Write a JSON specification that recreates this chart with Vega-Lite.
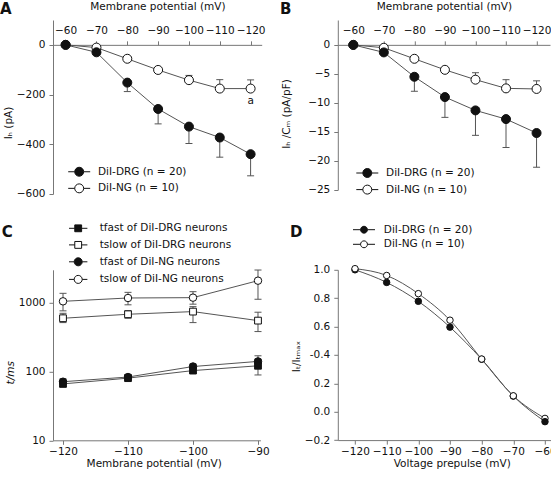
{
  "$schema": "https://vega.github.io/schema/vega-lite/v6.json",
  "padding": {"left": 0, "top": 1, "right": 0, "bottom": 0},
  "autosize": {"type": "pad"},
  "config": {
    "font": "DejaVu Sans",
    "view": {"stroke": null},
    "axis": {"domainColor": "#777", "tickColor": "#777", "labelColor": "#111", "titleColor": "#111", "labelFontSize": 10.5, "titleFontSize": 10.5, "titleFontWeight": "normal", "grid": false, "tickSize": 4, "labelFlush": false, "labelOverlap": false},
    "legend": {"labelFontSize": 10.5, "labelColor": "#111", "padding": 0, "symbolStrokeWidth": 1, "symbolOpacity": 1},
    "title": {"fontSize": 15, "fontWeight": "bold", "color": "#111", "anchor": "start", "frame": "group"}
  },
  "datasets": {
    "A": [
      {"x": -60, "y": 0, "series": "DiI-NG (n = 10)"},
      {"x": -70, "y": -11, "series": "DiI-NG (n = 10)"},
      {"x": -80, "y": -56, "series": "DiI-NG (n = 10)"},
      {"x": -90, "y": -101, "series": "DiI-NG (n = 10)"},
      {"x": -100, "y": -142, "lo": -123, "series": "DiI-NG (n = 10)"},
      {"x": -110, "y": -176, "lo": -140, "series": "DiI-NG (n = 10)"},
      {"x": -120, "y": -176, "lo": -141, "series": "DiI-NG (n = 10)"},
      {"x": -60, "y": 0, "series": "DiI-DRG (n = 20)"},
      {"x": -70, "y": -30, "series": "DiI-DRG (n = 20)"},
      {"x": -80, "y": -152, "lo": -188, "series": "DiI-DRG (n = 20)"},
      {"x": -90, "y": -258, "lo": -318, "series": "DiI-DRG (n = 20)"},
      {"x": -100, "y": -329, "lo": -397, "series": "DiI-DRG (n = 20)"},
      {"x": -110, "y": -373, "lo": -452, "series": "DiI-DRG (n = 20)"},
      {"x": -120, "y": -440, "lo": -527, "series": "DiI-DRG (n = 20)"}
    ],
    "Anote": [{"x": -120, "y": -227, "text": "a"}],
    "B": [
      {"x": -60, "y": 0, "series": "DiI-NG (n = 10)"},
      {"x": -70, "y": -0.5, "series": "DiI-NG (n = 10)"},
      {"x": -80, "y": -2.4, "series": "DiI-NG (n = 10)"},
      {"x": -90, "y": -4.3, "series": "DiI-NG (n = 10)"},
      {"x": -100, "y": -6.0, "lo": -4.8, "series": "DiI-NG (n = 10)"},
      {"x": -110, "y": -7.5, "lo": -6.0, "series": "DiI-NG (n = 10)"},
      {"x": -120, "y": -7.6, "lo": -6.2, "series": "DiI-NG (n = 10)"},
      {"x": -60, "y": 0, "series": "DiI-DRG (n = 20)"},
      {"x": -70, "y": -1.3, "series": "DiI-DRG (n = 20)"},
      {"x": -80, "y": -5.5, "lo": -8.0, "series": "DiI-DRG (n = 20)"},
      {"x": -90, "y": -9.0, "lo": -12.5, "series": "DiI-DRG (n = 20)"},
      {"x": -100, "y": -11.3, "lo": -15.6, "series": "DiI-DRG (n = 20)"},
      {"x": -110, "y": -12.8, "lo": -17.7, "series": "DiI-DRG (n = 20)"},
      {"x": -120, "y": -15.2, "lo": -21.1, "series": "DiI-DRG (n = 20)"}
    ],
    "C": [
      {"x": -120, "y": 71, "lo": 65, "hi": 78, "series": "tfast of DiI-NG neurons"},
      {"x": -110, "y": 83, "lo": 78, "hi": 89, "series": "tfast of DiI-NG neurons"},
      {"x": -100, "y": 118, "lo": 108, "hi": 128, "series": "tfast of DiI-NG neurons"},
      {"x": -90, "y": 140, "lo": 120, "hi": 169, "series": "tfast of DiI-NG neurons"},
      {"x": -120, "y": 66, "lo": 60, "hi": 72, "series": "tfast of DiI-DRG neurons"},
      {"x": -110, "y": 80, "lo": 75, "hi": 86, "series": "tfast of DiI-DRG neurons"},
      {"x": -100, "y": 103, "lo": 95, "hi": 112, "series": "tfast of DiI-DRG neurons"},
      {"x": -90, "y": 121, "lo": 89, "hi": 150, "series": "tfast of DiI-DRG neurons"},
      {"x": -120, "y": 593, "lo": 513, "hi": 700, "series": "tslow of DiI-DRG neurons"},
      {"x": -110, "y": 678, "lo": 593, "hi": 765, "series": "tslow of DiI-DRG neurons"},
      {"x": -100, "y": 741, "lo": 513, "hi": 875, "series": "tslow of DiI-DRG neurons"},
      {"x": -90, "y": 548, "lo": 380, "hi": 726, "series": "tslow of DiI-DRG neurons"},
      {"x": -120, "y": 1045, "lo": 760, "hi": 1366, "series": "tslow of DiI-NG neurons"},
      {"x": -110, "y": 1168, "lo": 930, "hi": 1411, "series": "tslow of DiI-NG neurons"},
      {"x": -100, "y": 1182, "lo": 950, "hi": 1443, "series": "tslow of DiI-NG neurons"},
      {"x": -90, "y": 2085, "lo": 1120, "hi": 2978, "series": "tslow of DiI-NG neurons"}
    ],
    "D": [
      {"x": -120, "y": 1.0, "series": "DiI-DRG (n = 20)"},
      {"x": -80, "y": 0.37, "series": "DiI-DRG (n = 20)"},
      {"x": -70, "y": 0.11, "series": "DiI-DRG (n = 20)"},
      {"x": -120, "y": 1.008, "series": "DiI-NG (n = 10)"},
      {"x": -110, "y": 0.96, "series": "DiI-NG (n = 10)"},
      {"x": -100, "y": 0.832, "series": "DiI-NG (n = 10)"},
      {"x": -90, "y": 0.645, "series": "DiI-NG (n = 10)"},
      {"x": -80, "y": 0.371, "series": "DiI-NG (n = 10)"},
      {"x": -70, "y": 0.112, "series": "DiI-NG (n = 10)"},
      {"x": -60, "y": -0.047, "series": "DiI-NG (n = 10)"},
      {"x": -110, "y": 0.911, "series": "DiI-DRG (n = 20)"},
      {"x": -100, "y": 0.778, "series": "DiI-DRG (n = 20)"},
      {"x": -90, "y": 0.596, "series": "DiI-DRG (n = 20)"},
      {"x": -60, "y": -0.07, "series": "DiI-DRG (n = 20)"}
    ]
  },
  "bounds": "flush",
  "columns": 2,
  "spacing": {"row": 75.8, "column": 75.8},
  "resolve": {"scale": {"fill": "independent", "shape": "independent"}, "legend": {"fill": "independent", "shape": "independent"}},
  "concat": [
    {
      "width": 208.7,
      "height": 173.95,
      "title": {"text": "A", "dx": -53, "dy": 19.5},
      "encoding": {
        "x": {"field": "x", "type": "quantitative", "scale": {"domain": [-123.6, -55.9], "reverse": true, "nice": false, "zero": false},
          "axis": {"orient": "top", "offset": -24.85, "values": [-60, -70, -80, -90, -100, -110, -120], "labelPadding": 5, "title": "Membrane potential (mV)", "titleY": -38.3, "titleBaseline": "middle"}},
        "y": {"field": "y", "type": "quantitative", "scale": {"domain": [-600, 100], "nice": false, "zero": false},
          "axis": {"values": [0, -200, -400, -600], "labelPadding": 4, "title": "Iₕ (pA)", "titleX": -44.8, "titleY": 102.5, "titleBaseline": "middle"}}
      },
      "layer": [
        {"data": {"name": "A"}, "mark": {"type": "line", "color": "#555", "strokeWidth": 1}, "encoding": {"detail": {"field": "series"}}},
        {"data": {"name": "A"}, "transform": [{"filter": "isValid(datum.lo)"}], "mark": {"type": "rule", "color": "#555", "strokeWidth": 1}, "encoding": {"y2": {"field": "lo"}}},
        {"data": {"name": "A"}, "transform": [{"filter": "isValid(datum.lo)"}], "mark": {"type": "tick", "orient": "horizontal", "size": 7, "thickness": 1, "color": "#555", "opacity": 1}, "encoding": {"y": {"field": "lo", "type": "quantitative"}}},
        {"data": {"name": "A"}, "mark": {"type": "point", "filled": true, "size": 81, "stroke": "#111", "strokeWidth": 1, "opacity": 1},
          "encoding": {"fill": {"field": "series", "type": "nominal", "scale": {"domain": ["DiI-DRG (n = 20)", "DiI-NG (n = 10)"], "range": ["#111", "white"]},
            "legend": {"title": null, "orient": "none", "legendX": 18.7, "legendY": 144.25, "symbolSize": 196, "labelOffset": 11.3, "rowPadding": 2.6,
              "symbolType": "M-1.57,0H-0.64M0.64,0H1.57M-0.64,0A0.64,0.64,0,1,1,0.64,0A0.64,0.64,0,1,1,-0.64,0Z",
              "encode": {"symbols": {"update": {"stroke": {"value": "#222"}, "strokeWidth": {"value": 1}, "opacity": {"value": 1}}}}}}}},
        {"data": {"name": "Anote"}, "mark": {"type": "text", "fontSize": 10.5, "color": "#111"}, "encoding": {"text": {"field": "text"}}}
      ]
    },
    {
      "width": 212.2,
      "height": 169.85,
      "title": {"text": "B", "dx": -57.8, "dy": 19.5},
      "data": {"name": "B"},
      "encoding": {
        "x": {"field": "x", "type": "quantitative", "scale": {"domain": [-124.4, -54.93], "reverse": true, "nice": false, "zero": false},
          "axis": {"orient": "top", "offset": -24.85, "values": [-60, -70, -80, -90, -100, -110, -120], "labelPadding": 5, "title": "Membrane potential (mV)", "titleY": -38.3, "titleBaseline": "middle"}},
        "y": {"field": "y", "type": "quantitative", "scale": {"domain": [-25, 4.29], "nice": false, "zero": false},
          "axis": {"values": [0, -5, -10, -15, -20, -25], "labelPadding": 4, "title": "Iₕ /Cₘ (pA/pF)", "titleX": -51.8, "titleY": 93.5, "titleBaseline": "middle"}}
      },
      "layer": [
        {"mark": {"type": "line", "color": "#555", "strokeWidth": 1}, "encoding": {"detail": {"field": "series"}}},
        {"transform": [{"filter": "isValid(datum.lo)"}], "mark": {"type": "rule", "color": "#555", "strokeWidth": 1}, "encoding": {"y2": {"field": "lo"}}},
        {"transform": [{"filter": "isValid(datum.lo)"}], "mark": {"type": "tick", "orient": "horizontal", "size": 7, "thickness": 1, "color": "#555", "opacity": 1}, "encoding": {"y": {"field": "lo", "type": "quantitative"}}},
        {"mark": {"type": "point", "filled": true, "size": 81, "stroke": "#111", "strokeWidth": 1, "opacity": 1},
          "encoding": {"fill": {"field": "series", "type": "nominal", "scale": {"domain": ["DiI-DRG (n = 20)", "DiI-NG (n = 10)"], "range": ["#111", "white"]},
            "legend": {"title": null, "orient": "none", "legendX": 22, "legendY": 145.5, "symbolSize": 196, "labelOffset": 11.3, "rowPadding": 2.6,
              "symbolType": "M-1.57,0H-0.64M0.64,0H1.57M-0.64,0A0.64,0.64,0,1,1,0.64,0A0.64,0.64,0,1,1,-0.64,0Z",
              "encode": {"symbols": {"update": {"stroke": {"value": "#222"}, "strokeWidth": {"value": 1}, "opacity": {"value": 1}}}}}}}}
      ]
    },
    {
      "width": 207.4,
      "height": 170.5,
      "title": {"text": "C", "dx": -51.3, "dy": 22},
      "data": {"name": "C"},
      "encoding": {
        "x": {"field": "x", "type": "quantitative", "scale": {"domain": [-121.54, -89.63], "nice": false, "zero": false},
          "axis": {"values": [-120, -110, -100, -90], "labelPadding": 2, "title": "Membrane potential (mV)", "titleX": 100.7, "titleY": 23.5, "titleBaseline": "middle"}},
        "y": {"field": "y", "type": "quantitative", "scale": {"type": "log", "domain": [10, 3000], "nice": false},
          "axis": {"values": [10, 100, 1000], "labelPadding": 4, "format": "d", "title": "t/ms", "titleX": -42.3, "titleY": 102.5, "titleBaseline": "middle", "titleFontStyle": "italic"}}
      },
      "resolve": {"scale": {"fill": "independent"}, "legend": {"fill": "independent"}},
      "layer": [
        {"mark": {"type": "line", "color": "#555", "strokeWidth": 1}, "encoding": {"detail": {"field": "series"}}},
        {"mark": {"type": "rule", "color": "#555", "strokeWidth": 1}, "encoding": {"y": {"field": "lo", "type": "quantitative"}, "y2": {"field": "hi"}}},
        {"mark": {"type": "tick", "orient": "horizontal", "size": 7, "thickness": 1, "color": "#555", "opacity": 1}, "encoding": {"y": {"field": "lo", "type": "quantitative"}}},
        {"mark": {"type": "tick", "orient": "horizontal", "size": 7, "thickness": 1, "color": "#555", "opacity": 1}, "encoding": {"y": {"field": "hi", "type": "quantitative"}}},
        {"transform": [{"filter": "indexof(datum.series, 'DRG') < 0"}],
          "mark": {"type": "point", "shape": "circle", "filled": true, "size": 56, "stroke": "#111", "strokeWidth": 1, "opacity": 1},
          "encoding": {
            "fill": {"field": "series", "type": "nominal", "scale": {"domain": ["tfast of DiI-NG neurons", "tslow of DiI-NG neurons"], "range": ["#111", "white"]},
              "legend": {"title": null, "orient": "none", "legendX": 18.7, "legendY": -14.5, "symbolSize": 144, "labelOffset": 15, "rowPadding": 4.6,
                "symbolType": "M-1.53,0H-0.67M0.67,0H1.53M-0.67,0A0.67,0.67,0,1,1,0.67,0A0.67,0.67,0,1,1,-0.67,0Z",
                "encode": {"symbols": {"update": {"stroke": {"value": "#222"}, "strokeWidth": {"value": 1}, "opacity": {"value": 1}}}}}}}},
        {"transform": [{"filter": "indexof(datum.series, 'DRG') >= 0"}],
          "mark": {"type": "point", "shape": "square", "filled": true, "size": 46, "stroke": "#111", "strokeWidth": 1, "opacity": 1},
          "encoding": {
            "fill": {"field": "series", "type": "nominal", "scale": {"domain": ["tfast of DiI-DRG neurons", "tslow of DiI-DRG neurons"], "range": ["#111", "white"]},
              "legend": {"title": null, "orient": "none", "legendX": 18.7, "legendY": -48, "symbolSize": 144, "labelOffset": 15, "rowPadding": 4.6,
                "symbolType": "M-1.53,0H-0.57M0.57,0H1.53M-0.57,-0.57H0.57V0.57H-0.57Z",
                "encode": {"symbols": {"update": {"stroke": {"value": "#222"}, "strokeWidth": {"value": 1}, "opacity": {"value": 1}}}}}}}}
      ]
    },
    {
      "width": 213.2,
      "height": 170.3,
      "title": {"text": "D", "dx": -47.8, "dy": 22},
      "data": {"name": "D"},
      "encoding": {
        "x": {"field": "x", "type": "quantitative", "scale": {"domain": [-125.43, -58.1], "nice": false, "zero": false},
          "axis": {"values": [-120, -110, -100, -90, -80, -70, -60], "labelPadding": 2, "title": "Voltage prepulse (mV)", "titleX": 113.9, "titleY": 23.5, "titleBaseline": "middle"}},
        "y": {"field": "y", "type": "quantitative", "scale": {"domain": [-0.2, 1.0], "nice": false, "zero": false},
          "axis": {"values": [-0.2, 0, 0.2, 0.4, 0.6, 0.8, 1.0], "labelPadding": 4, "labelExpr": "datum.value == 0.4 ? '-0.4' : format(datum.value, '.1f')", "title": "Iₜ/Iₜₘₐₓ", "titleX": -41.8, "titleY": 86.2, "titleBaseline": "middle"}}
      },
      "layer": [
        {"mark": {"type": "line", "color": "#555", "strokeWidth": 1, "interpolate": "monotone"}, "encoding": {"detail": {"field": "series"}}},
        {"mark": {"type": "point", "filled": true, "size": 42, "stroke": "#111", "strokeWidth": 1, "opacity": 1},
          "encoding": {"fill": {"field": "series", "type": "nominal", "scale": {"domain": ["DiI-DRG (n = 20)", "DiI-NG (n = 10)"], "range": ["#111", "white"]},
            "legend": {"title": null, "orient": "none", "legendX": 18.7, "legendY": -47.6, "symbolSize": 196, "labelOffset": 12.3, "rowPadding": 1.6,
              "symbolType": "M-1.57,0H-0.49M0.49,0H1.57M-0.49,0A0.49,0.49,0,1,1,0.49,0A0.49,0.49,0,1,1,-0.49,0Z",
              "encode": {"symbols": {"update": {"stroke": {"value": "#222"}, "strokeWidth": {"value": 1}, "opacity": {"value": 1}}}}}}}}
      ]
    }
  ]
}
